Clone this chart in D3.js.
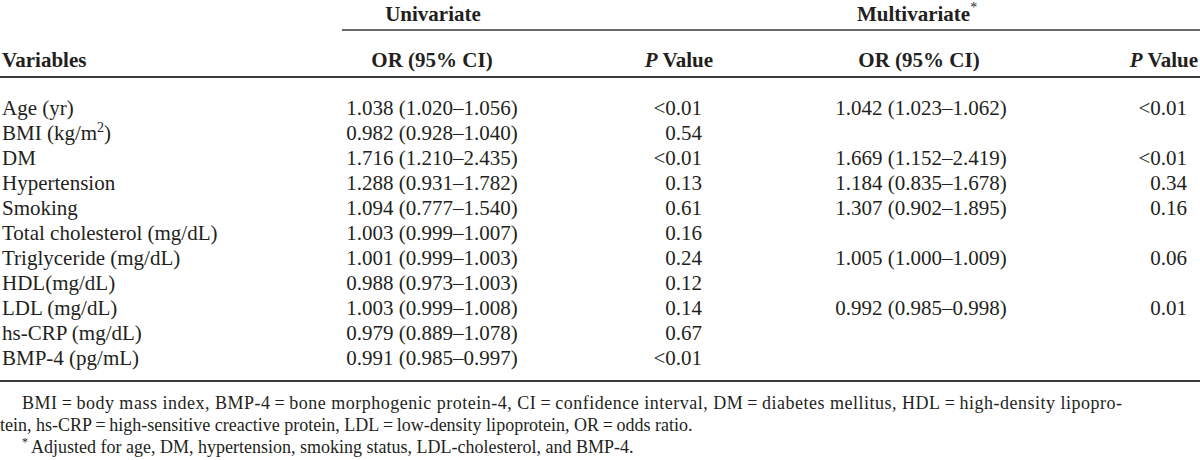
<!DOCTYPE html>
<html>
<head>
<meta charset="utf-8">
<script src="https://cdn.jsdelivr.net/npm/d3@7"></script>
<style>
  body { margin: 0; background: #fff; }
  svg text { font-family: "Liberation Serif", "Times New Roman", serif; fill: #231f20; }
</style>
</head>
<body>
<div id="chart"></div>
<script>
// rows of the table
const variables = ["Age (yr)", "BMI (kg/m^{2})", "DM", "Hypertension", "Smoking",
  "Total cholesterol (mg/dL)", "Triglyceride (mg/dL)", "HDL(mg/dL)", "LDL (mg/dL)",
  "hs-CRP (mg/dL)", "BMP-4 (pg/mL)"];

// univariate OR with 95% CI
const uniOR = [1.038, 0.982, 1.716, 1.288, 1.094, 1.003, 1.001, 0.988, 1.003, 0.979, 0.991];
const uniLo = [1.020, 0.928, 1.210, 0.931, 0.777, 0.999, 0.999, 0.973, 0.999, 0.889, 0.985];
const uniHi = [1.056, 1.040, 2.435, 1.782, 1.540, 1.007, 1.003, 1.003, 1.008, 1.078, 0.997];
const uniP = ["<0.01", "0.54", "<0.01", "0.13", "0.61", "0.16", "0.24", "0.12", "0.14", "0.67", "<0.01"];

// multivariate (null = not in model)
const multiOR = [1.042, null, 1.669, 1.184, 1.307, null, 1.005, null, 0.992, null, null];
const multiLo = [1.023, null, 1.152, 0.835, 0.902, null, 1.000, null, 0.985, null, null];
const multiHi = [1.062, null, 2.419, 1.678, 1.895, null, 1.009, null, 0.998, null, null];
const multiP = ["<0.01", null, "<0.01", "0.34", "0.16", null, "0.06", null, "0.01", null, null];

const footnotes = [
  "BMI\u2009=\u2009body mass index, BMP-4\u2009=\u2009bone morphogenic protein-4, CI\u2009=\u2009confidence interval, DM\u2009=\u2009diabetes mellitus, HDL\u2009=\u2009high-density lipopro-",
  "tein, hs-CRP\u2009=\u2009high-sensitive creactive protein, LDL\u2009=\u2009low-density lipoprotein, OR\u2009=\u2009odds ratio.",
  "Adjusted for age, DM, hypertension, smoking status, LDL-cholesterol, and BMP-4."
];

const width = 1200, height = 460;
const fs = 21;
const fmt = d3.format(".3f");

const svg = d3.select("#chart").append("svg")
  .attr("width", width)
  .attr("height", height);

// column positions
const xVar = 2, xUniOR = 432, xUniP = 702, xMultiOR = 921, xMultiP = 1187;

let y = d3.scalePoint()
  .domain(d3.range(variables.length))
  .range([115, 365]);

// rules
const rules = svg.append("g").attr("stroke", "#3a3a3a");
rules.append("line").attr("x1", 342).attr("x2", 1200).attr("y1", 30).attr("y2", 30).attr("stroke-width", 1.6);
rules.append("line").attr("x1", 0).attr("x2", 1200).attr("y1", 77).attr("y2", 77).attr("stroke-width", 2.2);
rules.append("line").attr("x1", 0).attr("x2", 1200).attr("y1", 381).attr("y2", 381).attr("stroke-width", 2.2);

// header
const head = svg.append("g").attr("font-size", fs).attr("font-weight", "bold");
head.append("text").attr("x", 433).attr("y", 21).attr("text-anchor", "middle").text("Univariate");
let mv = head.append("text").attr("x", 857).attr("y", 21);
mv.append("tspan").text("Multivariate");
mv.append("tspan").attr("dy", -9).attr("font-size", 14).attr("font-weight", "normal").text("*");

head.append("text").attr("x", xVar).attr("y", 67).text("Variables");
head.append("text").attr("x", xUniOR).attr("y", 67).attr("text-anchor", "middle").text("OR (95% CI)");
head.append("text").attr("x", xMultiOR - 2).attr("y", 67).attr("text-anchor", "middle").text("OR (95% CI)");
[713, 1198].forEach(function(x) {
  let t = head.append("text").attr("x", x).attr("y", 67).attr("text-anchor", "end");
  t.append("tspan").attr("font-style", "italic").text("P");
  t.append("tspan").text(" Value");
});

// body rows
const body = svg.append("g").attr("font-size", fs);
const rows = body.selectAll("g.row")
  .data(variables)
  .enter().append("g")
  .attr("class", "row")
  .attr("transform", function(d, i) { return "translate(0," + y(i) + ")"; });

rows.append("text")
  .attr("x", xVar)
  .each(function(d) {
    let t = d3.select(this);
    let m = d.match(/^(.*)\^\{(.*?)\}(.*)$/);
    if (m) {
      t.append("tspan").text(m[1]);
      t.append("tspan").attr("dy", -8).attr("font-size", 14).text(m[2]);
      t.append("tspan").attr("dy", 8).text(m[3]);
    } else {
      t.text(d);
    }
  });

rows.append("text")
  .attr("x", xUniOR)
  .attr("text-anchor", "middle")
  .text(function(d, i) { return fmt(uniOR[i]) + " (" + fmt(uniLo[i]) + "\u2013" + fmt(uniHi[i]) + ")"; });

rows.append("text")
  .attr("x", xUniP)
  .attr("text-anchor", "end")
  .text(function(d, i) { return uniP[i]; });

rows.filter(function(d, i) { return multiOR[i] != null; })
  .append("text")
  .attr("x", xMultiOR)
  .attr("text-anchor", "middle")
  .text(function(d) {
    let i = variables.indexOf(d);
    return fmt(multiOR[i]) + " (" + fmt(multiLo[i]) + "\u2013" + fmt(multiHi[i]) + ")";
  });

rows.filter(function(d, i) { return multiP[i] != null; })
  .append("text")
  .attr("x", xMultiP)
  .attr("text-anchor", "end")
  .text(function(d) { return multiP[variables.indexOf(d)]; });

// footnotes
const foot = svg.append("g").attr("font-size", 18);
foot.append("text").attr("x", 22).attr("y", 409)
  .attr("textLength", 1100).attr("lengthAdjust", "spacing")
  .text(footnotes[0]);
foot.append("text").attr("x", 0).attr("y", 431).text(footnotes[1]);
let f3 = foot.append("text").attr("x", 22).attr("y", 453);
f3.append("tspan").attr("dy", -7).attr("font-size", 12).text("*");
f3.append("tspan").attr("dy", 7).attr("dx", 3).text(footnotes[2]);
</script>
</body>
</html>
